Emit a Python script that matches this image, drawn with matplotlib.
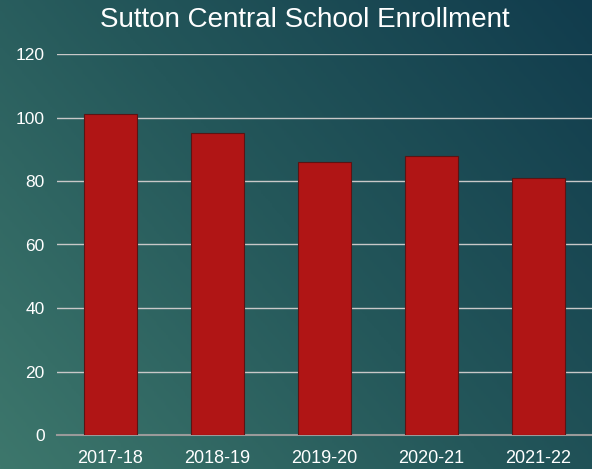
import numpy as np
import matplotlib
matplotlib.use("Agg")
import matplotlib.pyplot as plt
from matplotlib.colors import LinearSegmentedColormap

years = ["2017-18", "2018-19", "2019-20", "2020-21", "2021-22"]
enrollment = [101, 95, 86, 88, 81]
yticks = [0, 20, 40, 60, 80, 100, 120]

plt.rcParams['font.family'] = ['Liberation Sans', 'DejaVu Sans']

fig = plt.figure(figsize=(5.92, 4.69), dpi=100)

# gradient background
bg = fig.add_axes([0, 0, 1, 1], zorder=-10)
bg.set_axis_off()
h, w = 200, 250
yy, xx = np.mgrid[0:h, 0:w]
t = (xx / (w - 1)) * 0.6 + (yy / (h - 1)) * 0.4  # 0 at bottom-left (origin lower)
cmap = LinearSegmentedColormap.from_list("bg", ["#3d776c", "#24575a", "#113c4d"])
bg.imshow(t, cmap=cmap, origin="lower", aspect="auto", extent=[0, 1, 0, 1])
bg.set_xlim(0, 1)
bg.set_ylim(0, 1)

ax = fig.add_axes([57/592, 34/469, 1 - 57/592, (435 - 54)/469])
ax.set_facecolor("none")
x = np.arange(len(years))
ax.bar(x, enrollment, width=0.5, color="#b01515", edgecolor="#5a1414", linewidth=0.8, zorder=3)
ax.set_xlim(-0.5, len(years) - 0.5)
ax.set_ylim(0, 120)
ax.set_yticks(yticks)
ax.set_xticks(x)
ax.set_xticklabels(years)
ax.grid(axis="y", color="#c8c8c8", linewidth=1, zorder=0)
ax.tick_params(axis="both", length=0, colors="white", labelsize=13)
ax.tick_params(axis="y", pad=9, labelsize=12.5)
ax.tick_params(axis="x", pad=11)
for s in ["top", "right", "left"]:
    ax.spines[s].set_visible(False)
ax.spines["bottom"].set_color("#9a9a9a")
ax.spines["bottom"].set_linewidth(1.5)

fig.text(305/592, 1 - 20/469, "Sutton Central School Enrollment", color="white",
         fontsize=20, ha="center", va="center")

fig.savefig("out.png", dpi=100)
